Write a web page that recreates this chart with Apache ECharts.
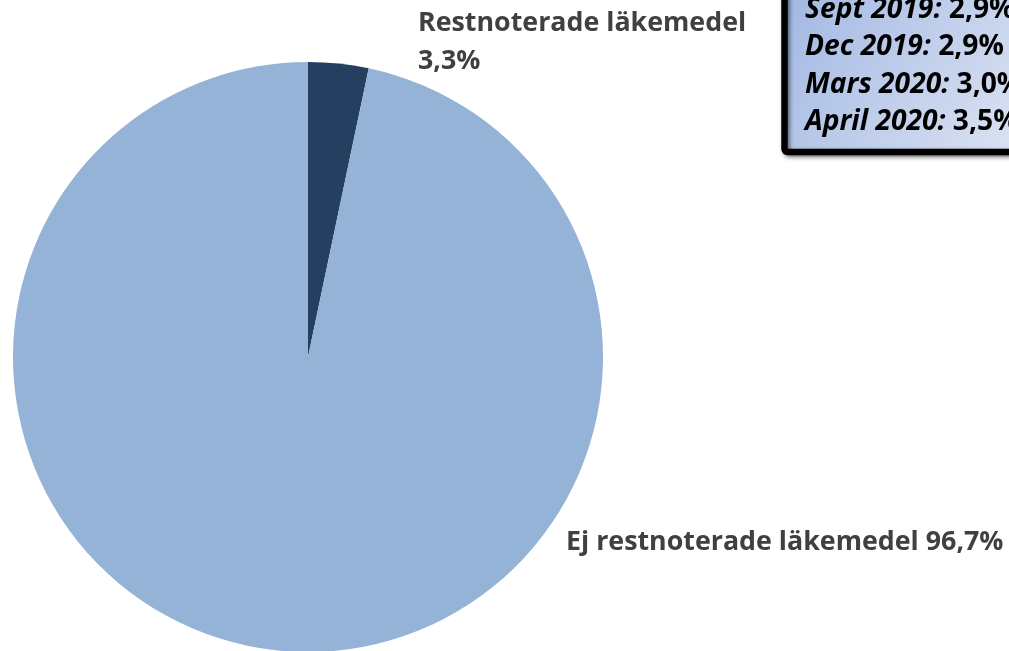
<!DOCTYPE html>
<html><head><meta charset="utf-8">
<script src="https://cdn.jsdelivr.net/npm/echarts@6/dist/echarts.min.js"></script>
<style>html,body{margin:0;padding:0;background:#fff}#c{width:1009px;height:651px}</style>
</head><body><div id="c"></div>
<script>
const categories = ['Restnoterade läkemedel', 'Ej restnoterade läkemedel'];
const values = [3.3, 96.7];
const valueLabels = ['3,3%', '96,7%'];
const periods = ['Sept 2019', 'Dec 2019', 'Mars 2020', 'April 2020'];
const periodValues = ['2,9%', '2,9%', '3,0%', '3,5%'];
const colors = ['#243f60', '#95b3d7'];

const chart = echarts.init(document.getElementById('c'));
const FONT = 'Open Sans';
const boxText = periods.map((p, i) => `{p|${p}}{c|:} {v|${periodValues[i]}}`).join('\n');
const BF = 28.2, BLH = 37.5;

chart.setOption({
  animation: false,
  series: [{
    type: 'pie',
    center: [308, 357],
    radius: 295,
    startAngle: 90,
    clockwise: true,
    data: categories.map((n, i) => ({ name: n, value: values[i], itemStyle: { color: colors[i] } })),
    labelLine: { show: false },
    label: {
      show: true,
      position: 'outside',
      overflow: 'none',
      fontFamily: FONT, fontWeight: 'bold', fontSize: 26.8, color: '#404040', lineHeight: 38,
      formatter: p => p.dataIndex === 0 ? `${p.name}\n${valueLabels[0]}` : `${p.name} ${valueLabels[1]}`
    },
    labelLayout: p => p.dataIndex === 0
      ? { x: 418, y: 4, align: 'left', verticalAlign: 'top' }
      : { x: 566, y: 523, align: 'left', verticalAlign: 'top' }
  }],
  graphic: [{
    type: 'rect',
    shape: { x: 784.5, y: -20, width: 260, height: 172, r: 3 },
    style: {
      fill: new echarts.graphic.LinearGradient(0, 0, 1, 1, [
        { offset: 0, color: '#9fb6e2' }, { offset: 1, color: '#e1e7f4' }
      ]),
      stroke: '#000', lineWidth: 6.5,
      shadowBlur: 4, shadowColor: 'rgba(0,0,0,0.5)', shadowOffsetX: 2, shadowOffsetY: 2
    }
  }, {
    type: 'text',
    x: 805, y: -9,
    style: {
      text: boxText,
      fontFamily: FONT, fontSize: BF, fontWeight: 'bold', fill: '#000', lineHeight: BLH,
      rich: {
        p: { fontFamily: FONT, fontSize: BF, fontWeight: 'bold', fontStyle: 'italic', fill: '#000', lineHeight: BLH },
        c: { fontFamily: FONT, fontSize: BF, fontWeight: 'bold', fontStyle: 'italic', fill: '#000', lineHeight: BLH },
        v: { fontFamily: FONT, fontSize: BF, fontWeight: 'bold', fill: '#000', lineHeight: BLH }
      }
    }
  }]
});
</script></body></html>
